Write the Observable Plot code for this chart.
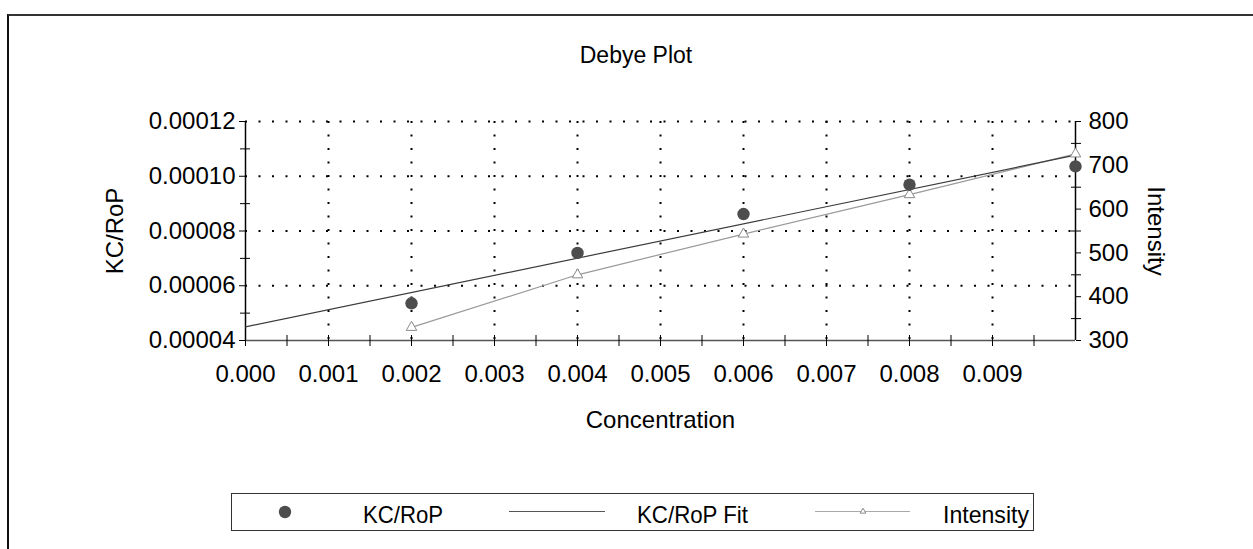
<!DOCTYPE html>
<html>
<head>
<meta charset="utf-8">
<script src="https://cdn.jsdelivr.net/npm/d3@7"></script>
<script src="https://cdn.jsdelivr.net/npm/@observablehq/plot@0.6"></script>
<style>
  html, body { margin: 0; padding: 0; background: #fff; }
  #page { position: relative; width: 1253px; height: 549px; overflow: hidden; font-family: "Liberation Sans", Arial, sans-serif; }
  #frame { position: absolute; left: 7px; top: 14px; width: 1400px; height: 700px; border-left: 2px solid #111; border-top: 2px solid #333; }
  #title { position: absolute; left: 0; top: 42px; width: 1272px; text-align: center; font-size: 23px; line-height: normal; color: #000; }
  #chart { position: absolute; left: 0; top: 80px; }
  #legend { position: absolute; left: 231px; top: 493px; width: 803px; height: 38px; box-sizing: border-box; border: 1px solid #333; background: #fff; }
  #legend svg { position: absolute; left: -1px; top: -1px; }
</style>
</head>
<body>
<div id="page">
  <div id="frame"></div>
  <div id="title">Debye Plot</div>
  <div id="chart"></div>
  <div id="legend"></div>
</div>
<script>
// ---- data ----
const concentration = [0.002, 0.004, 0.006, 0.008, 0.010];
const kcRoP = [0.0000536, 0.0000720, 0.0000862, 0.0000969, 0.0001036];
const intensity = [330, 450, 543, 633, 726];
const fitConcentration = [0.000, 0.010];
const fitKcRoP = [0.0000450, 0.0001077];
const xTickValues = [0.000, 0.001, 0.002, 0.003, 0.004, 0.005, 0.006, 0.007, 0.008, 0.009];
const yTickValues = [0.00004, 0.00006, 0.00008, 0.00010, 0.00012];
const y2TickValues = [300, 400, 500, 600, 700, 800];
const seriesNames = ["KC/RoP", "KC/RoP Fit", "Intensity"];

// ---- scales ----
const xDomain = [0, 0.010];
const yDomain = [0.00004, 0.00012];
const y2Domain = [300, 800];
const toY = d3.scaleLinear().domain(y2Domain).range(yDomain);

const pts = concentration.map((c, i) => ({c, v: kcRoP[i]}));
const fit = fitConcentration.map((c, i) => ({c, v: fitKcRoP[i]}));
const inten = concentration.map((c, i) => ({c, v: toY(intensity[i]), raw: intensity[i]}));

const halfStep = (arr) => { const out = []; for (let i = 0; i < arr.length - 1; i++) out.push((arr[i] + arr[i + 1]) / 2); return out; };
const xMinor = halfStep([...xTickValues, 0.010]).concat(xTickValues.slice(1));
const yMinor = halfStep(yTickValues);
const y2Minor = halfStep(y2TickValues).map(toY);
const y2Major = y2TickValues.map(toY);
const dotted = "2,11.5";

const chart = Plot.plot({
  width: 1253,
  height: 380,
  marginLeft: 245,
  marginRight: 178,
  marginTop: 41,
  marginBottom: 120,
  style: {fontFamily: "Liberation Sans, Arial, sans-serif", fontSize: "24px", color: "#000", background: "transparent", overflow: "visible"},
  x: {domain: xDomain},
  y: {domain: yDomain},
  marks: [
    // grid
    Plot.gridX(xTickValues.slice(1), {stroke: "#000", strokeOpacity: 1, strokeWidth: 2, strokeDasharray: dotted}),
    Plot.gridY(yTickValues.slice(1), {stroke: "#000", strokeOpacity: 1, strokeWidth: 2, strokeDasharray: dotted}),
    // axis lines
    Plot.ruleY([yDomain[0]], {stroke: "#555", strokeWidth: 1.5}),
    Plot.ruleX([xDomain[0]], {stroke: "#000", strokeWidth: 1.5}),
    Plot.ruleX([xDomain[1]], {stroke: "#000", strokeWidth: 1.5}),
    // left axis
    Plot.axisY(yTickValues, {anchor: "left", tickSize: 6, tickPadding: 4, tickFormat: d => d.toFixed(5), label: null, fontSize: 24}),
    Plot.axisY(yMinor, {anchor: "left", tickSize: 10, dx: 5, tickFormat: () => "", label: null}),
    // right axis
    Plot.axisY(y2Major, {anchor: "right", tickSize: 5, tickPadding: 8, tickFormat: d => d3.format("d")(Math.round(toY.invert(d))), label: null, fontSize: 24}),
    Plot.axisY(y2Minor, {anchor: "right", tickSize: 10, dx: -5, tickFormat: () => "", label: null}),
    // bottom axis
    Plot.axisX(xTickValues.concat(xMinor), {anchor: "bottom", tickSize: 11, dy: -5, tickFormat: () => "", label: null}),
    Plot.axisX(xTickValues, {anchor: "bottom", tickSize: 0, tickPadding: 24, tickFormat: d => d.toFixed(3), label: null, fontSize: 24}),
    // axis titles
    Plot.text(["Concentration"], {frameAnchor: "bottom", lineAnchor: "middle", dy: 80, fontSize: 24, text: d => d}),
    Plot.text(["KC/RoP"], {frameAnchor: "left", textAnchor: "middle", lineAnchor: "middle", dx: -130, rotate: -90, fontSize: 24, text: d => d}),
    Plot.text(["Intensity"], {frameAnchor: "right", textAnchor: "middle", lineAnchor: "middle", dx: 80, rotate: 90, fontSize: 24, text: d => d}),
    // data
    Plot.line(inten, {x: "c", y: "v", stroke: "#9a9a9a", strokeWidth: 1.2}),
    Plot.line(fit, {x: "c", y: "v", stroke: "#3c3c3c", strokeWidth: 1.2}),
    Plot.dot(inten, {x: "c", y: "v", symbol: "triangle", r: 3.9, stroke: "#8a8a8a", strokeWidth: 1, fill: "#fff"}),
    Plot.dot(pts, {x: "c", y: "v", r: 6.2, fill: "#4d4d4d", stroke: "none"})
  ]
});
document.getElementById("chart").appendChild(chart);

// ---- legend ----
const ns = "http://www.w3.org/2000/svg";
const lg = document.createElementNS(ns, "svg");
lg.setAttribute("width", 803); lg.setAttribute("height", 38);
lg.setAttribute("font-family", "Liberation Sans, Arial, sans-serif");
lg.setAttribute("font-size", "24");
function el(tag, attrs, text) {
  const e = document.createElementNS(ns, tag);
  for (const k in attrs) e.setAttribute(k, attrs[k]);
  if (text != null) e.textContent = text;
  lg.appendChild(e);
  return e;
}
el("circle", {cx: 54, cy: 19, r: 6.2, fill: "#4d4d4d"});
el("text", {x: 132, y: 30, textLength: 80, lengthAdjust: "spacingAndGlyphs"}, seriesNames[0]);
el("line", {x1: 278, x2: 374, y1: 18.5, y2: 18.5, stroke: "#555", "stroke-width": 1.2});
el("text", {x: 406, y: 30, textLength: 111, lengthAdjust: "spacingAndGlyphs"}, seriesNames[1]);
el("line", {x1: 584, x2: 679, y1: 18.5, y2: 18.5, stroke: "#aaa", "stroke-width": 1.2});
el("path", {d: d3.symbol(d3.symbolTriangle, 14)(), transform: "translate(632,18.5)", fill: "#fff", stroke: "#8a8a8a", "stroke-width": 1});
el("text", {x: 712, y: 30, textLength: 86, lengthAdjust: "spacingAndGlyphs"}, seriesNames[2]);
document.getElementById("legend").appendChild(lg);
</script>
</body>
</html>
